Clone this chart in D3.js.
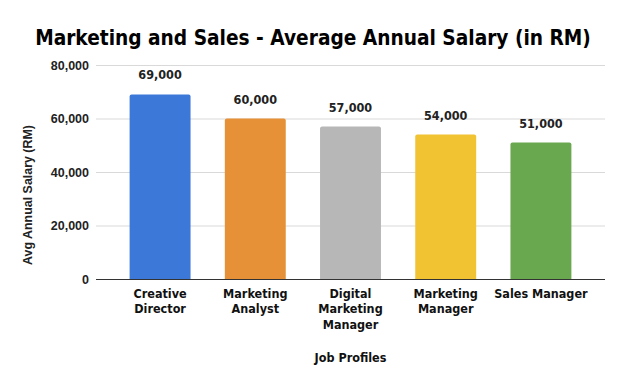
<!DOCTYPE html>
<html><head><meta charset="utf-8">
<script src="https://cdn.jsdelivr.net/npm/d3@7"></script>
<style>body{margin:0;background:#fff}svg{display:block}</style>
</head><body>
<svg id="c" width="624" height="385"></svg>
<script>
const categories = [["Creative","Director"],["Marketing","Analyst"],["Digital","Marketing","Manager"],["Marketing","Manager"],["Sales Manager"]];
const salaries = [69000, 60000, 57000, 54000, 51000];
const colors = ["#3c78d8", "#e69138", "#b7b7b7", "#f1c232", "#6aa84f"];
const yTicks = [0, 20000, 40000, 60000, 80000];
const titleText = "Marketing and Sales - Average Annual Salary (in RM)";
const xTitle = "Job Profiles";
const yTitle = "Avg Annual Salary (RM)";

const svg = d3.select("#c");
const L = 96, R = 605, T = 65, B = 279;
const keys = categories.map((c,i)=>i);
const x = d3.scaleBand().domain(keys).range([L, R]).paddingInner(0.36).paddingOuter(0.353);
const y = d3.scaleLinear().domain([0, 80000]).range([B, T]);
const fmt = d3.format(",");
const labelFont = "'DejaVu Sans Condensed','DejaVu Sans',sans-serif";

function fitText(sel, target) {
  const w = sel.node().getComputedTextLength();
  const fs = parseFloat(sel.attr("font-size"));
  sel.attr("font-size", (fs * target / w).toFixed(2));
}

// title
const t = svg.append("text").attr("x", 313).attr("y", 45).attr("text-anchor","middle")
  .attr("font-family", labelFont).attr("font-weight","bold").attr("font-size", 21)
  .attr("fill","#000").text(titleText);
fitText(t, 556);

// gridlines + y axis
const yAxis = d3.axisLeft(y).tickValues(yTicks).tickSize(-(R - L)).tickPadding(7).tickFormat(fmt);
const gy = svg.append("g").attr("transform", `translate(${L},0)`).call(yAxis);
gy.select(".domain").remove();
gy.selectAll(".tick line").attr("stroke", d => d === 0 ? "#333" : "#d9d9d9").attr("stroke-width", 1);
gy.selectAll(".tick text").attr("font-family","'Liberation Sans',Arial,sans-serif")
  .attr("font-weight","bold").attr("font-size", 12.5).attr("fill","#222");

// bars with slightly rounded top corners
const r = 2;
svg.append("g").selectAll("path").data(salaries).join("path")
  .attr("fill", (d,i) => colors[i])
  .attr("d", (d,i) => {
    const x0 = x(i), x1 = x(i) + x.bandwidth(), yt = y(d), yb = y(0);
    return `M${x0},${yb}V${yt + r}Q${x0},${yt} ${x0 + r},${yt}H${x1 - r}Q${x1},${yt} ${x1},${yt + r}V${yb}Z`;
  });

// redraw baseline on top
svg.append("line").attr("x1", L).attr("x2", R).attr("y1", y(0)+0.5).attr("y2", y(0)+0.5).attr("stroke","#333");

// value labels
svg.append("g").selectAll("text").data(salaries).join("text")
  .attr("x", (d,i) => x(i) + x.bandwidth()/2)
  .attr("y", d => y(d) - 15)
  .attr("text-anchor","middle").attr("font-family", labelFont).attr("font-weight","bold")
  .attr("font-size", 12.5).attr("fill","#222").text(d => fmt(d));

// category labels
const cg = svg.append("g");
categories.forEach((lines, i) => {
  const tx = cg.append("text").attr("text-anchor","middle").attr("font-family", labelFont)
    .attr("font-weight","bold").attr("font-size", 12.5).attr("fill","#111");
  lines.forEach((ln, j) => {
    tx.append("tspan").attr("x", x(i) + x.bandwidth()/2).attr("y", 297.5 + j * 15.5).text(ln);
  });
});

// axis titles
svg.append("text").attr("x", (L + R)/2).attr("y", 362).attr("text-anchor","middle")
  .attr("font-family", labelFont).attr("font-weight","bold").attr("font-size", 12.5)
  .attr("fill","#111").text(xTitle);
const yt = svg.append("text").attr("transform", "translate(31.5,195) rotate(-90)").attr("text-anchor","middle")
  .attr("font-family","'Liberation Sans',Arial,sans-serif").attr("font-weight","bold").attr("font-size", 12.5)
  .attr("fill","#222").text(yTitle);
fitText(yt, 140);
</script>
</body></html>
